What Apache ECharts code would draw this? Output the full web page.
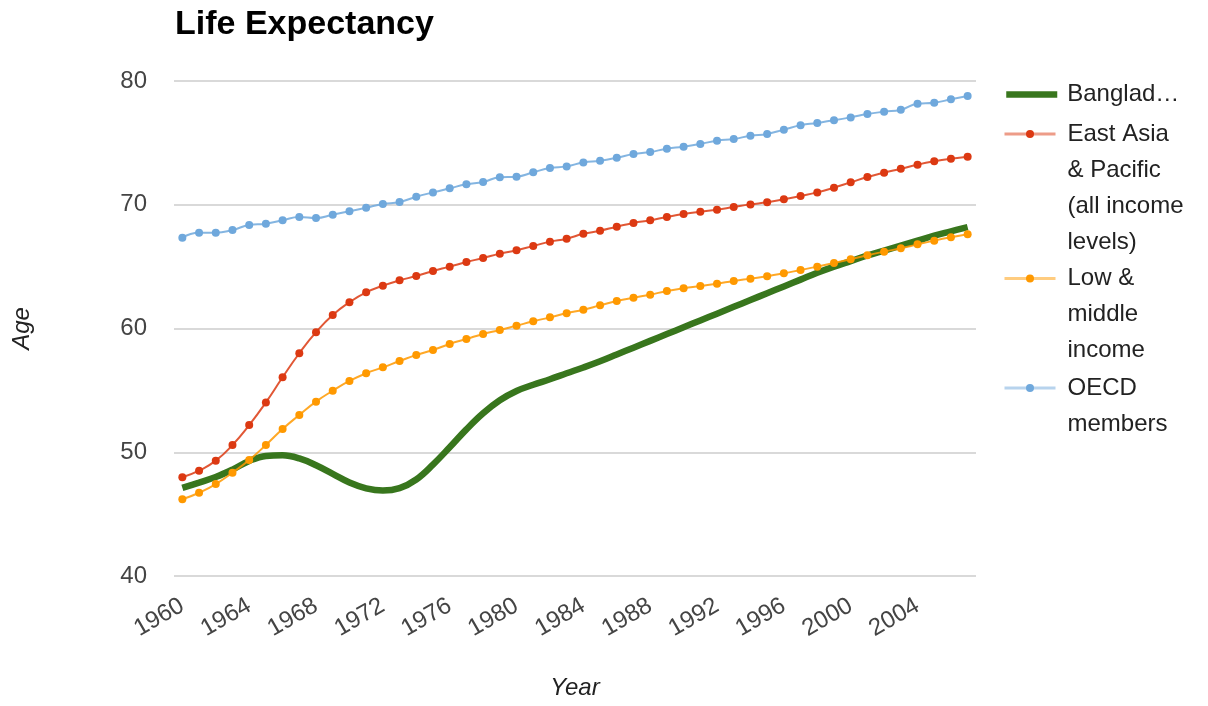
<!DOCTYPE html>
<html>
<head>
<meta charset="utf-8">
<title>Life Expectancy</title>
<script src="https://cdn.jsdelivr.net/npm/echarts@6/dist/echarts.min.js"></script>
<style>
  html, body { margin: 0; padding: 0; background: #fff; }
  #chart { width: 1208px; height: 706px; }
</style>
</head>
<body>
<div id="chart"></div>
<script>
// Years on the category axis, 1960–2007
const years = [
  '1960','1961','1962','1963','1964','1965','1966','1967','1968','1969',
  '1970','1971','1972','1973','1974','1975','1976','1977','1978','1979',
  '1980','1981','1982','1983','1984','1985','1986','1987','1988','1989',
  '1990','1991','1992','1993','1994','1995','1996','1997','1998','1999',
  '2000','2001','2002','2003','2004','2005','2006','2007'
];

// Life expectancy at birth, years
const bangladesh = [
  47.12, 47.55, 48.0, 48.6, 49.3, 49.7, 49.75, 49.5, 48.95, 48.25,
  47.55, 47.08, 46.9, 47.1, 47.8, 49.0, 50.4, 51.85, 53.15, 54.2,
  54.95, 55.45, 55.9, 56.38, 56.85, 57.35, 57.9, 58.45, 59.0, 59.55,
  60.1, 60.65, 61.2, 61.75, 62.3, 62.85, 63.4, 63.95, 64.5, 65.0,
  65.45, 65.9, 66.3, 66.7, 67.1, 67.5, 67.85, 68.2
];
const eastAsiaPacific = [
  47.98, 48.51, 49.32, 50.59, 52.2, 54.03, 56.06, 58.0, 59.7, 61.09,
  62.12, 62.92, 63.46, 63.89, 64.24, 64.65, 65.0, 65.37, 65.7, 66.05,
  66.32, 66.67, 67.02, 67.26, 67.65, 67.9, 68.23, 68.53, 68.74, 69.01,
  69.25, 69.44, 69.6, 69.82, 70.03, 70.2, 70.44, 70.71, 71.0, 71.38,
  71.81, 72.24, 72.59, 72.91, 73.24, 73.51, 73.72, 73.88
];
const lowMiddleIncome = [
  46.2, 46.73, 47.43, 48.35, 49.37, 50.59, 51.88, 53.01, 54.09, 54.97,
  55.76, 56.38, 56.86, 57.37, 57.86, 58.26, 58.75, 59.15, 59.56, 59.88,
  60.23, 60.58, 60.9, 61.23, 61.52, 61.87, 62.22, 62.49, 62.73, 63.03,
  63.25, 63.43, 63.62, 63.84, 64.03, 64.22, 64.46, 64.73, 65.0, 65.29,
  65.59, 65.92, 66.21, 66.48, 66.8, 67.1, 67.37, 67.61
];
const oecdMembers = [
  67.34, 67.74, 67.74, 67.96, 68.36, 68.47, 68.74, 69.01, 68.93, 69.2,
  69.47, 69.76, 70.06, 70.22, 70.65, 71.0, 71.33, 71.65, 71.84, 72.22,
  72.27, 72.62, 72.97, 73.1, 73.42, 73.56, 73.8, 74.1, 74.26, 74.53,
  74.69, 74.91, 75.18, 75.31, 75.58, 75.72, 76.07, 76.42, 76.61, 76.82,
  77.06, 77.33, 77.52, 77.68, 78.17, 78.25, 78.52, 78.79
];

const seriesNames = [
  'Bangladesh',
  'East Asia & Pacific (all income levels)',
  'Low & middle income',
  'OECD members'
];
// Wrapped legend text, one entry per series
const legendLines = [
  ['Bangladesh'],
  ['East Asia', '& Pacific', '(all income', 'levels)'],
  ['Low &', 'middle', 'income'],
  ['OECD', 'members']
];

// Y axis range
const yMin = 40, yMax = 80, yStep = 10;

const colors = ['#38761d', '#dc3912', '#ff9900', '#6fa8dc'];
const FONT = '"Liberation Sans", Arial, Helvetica, sans-serif';

const LEGEND_LINE_H = 36;
const legendFirstLineCenter = [94.5, 134, 278.5, 388];

// One legend block per series so the marker sits beside the first text line.
// Leading blank lines keep the marker (centred on the block) level with line one.
const legends = seriesNames.map((name, i) => {
  const n = legendLines[i].length;
  const blockHalf = (2 * n - 1) * LEGEND_LINE_H / 2;
  const textStyle = {
    fontFamily: FONT,
    fontSize: 24,
    color: '#222',
    lineHeight: LEGEND_LINE_H,
    padding: [0, 0, 0, i === 0 ? 5 : 7]
  };
  if (i === 0) {
    textStyle.width = 118;
    textStyle.overflow = 'truncate';
    textStyle.ellipsis = '…';
  }
  return {
    data: [{ name }],
    orient: 'vertical',
    left: 1003,
    top: legendFirstLineCenter[i] - blockHalf,
    padding: 0,
    itemWidth: 51,
    itemHeight: 10,
    selectedMode: false,
    formatter: () => '\n'.repeat(n - 1) + legendLines[i].join('\n'),
    textStyle,
    lineStyle: i === 0 ? { width: 6.5, opacity: 1 } : { width: 3, opacity: 0.5 },
    itemStyle: i === 0 ? { opacity: 0 } : { opacity: 1 }
  };
});

const seriesData = [bangladesh, eastAsiaPacific, lowMiddleIncome, oecdMembers];

const series = seriesNames.map((name, i) => {
  const base = {
    name,
    type: 'line',
    data: seriesData[i],
    color: colors[i],
    emphasis: { disabled: true }
  };
  if (i === 0) {
    return Object.assign(base, {
      smooth: 0.4,
      symbol: 'none',
      lineStyle: { width: 6.5, color: colors[i] }
    });
  }
  return Object.assign(base, {
    smooth: true,
    symbol: 'circle',
    symbolSize: 8,
    showSymbol: true,
    itemStyle: { color: colors[i] },
    lineStyle: { width: 2, color: colors[i], opacity: 0.85 }
  });
});

const chart = echarts.init(document.getElementById('chart'));
chart.setOption({
  animation: false,
  backgroundColor: '#fff',
  title: {
    text: 'Life Expectancy',
    left: 175,
    top: 8,
    padding: 0,
    textStyle: { fontFamily: FONT, fontSize: 34, fontWeight: 'bold', color: '#000' }
  },
  legend: legends,
  grid: { left: 174, right: 232, top: 81, bottom: 130, containLabel: false },
  xAxis: {
    type: 'category',
    data: years,
    boundaryGap: true,
    name: 'Year',
    nameLocation: 'middle',
    nameGap: 100,
    nameTextStyle: { fontFamily: FONT, fontSize: 24, fontStyle: 'italic', color: '#222' },
    axisLine: { show: false },
    axisTick: { show: false },
    splitLine: { show: false },
    axisLabel: {
      interval: 3,
      rotate: 30,
      margin: 28,
      fontFamily: FONT,
      fontSize: 24,
      color: '#444'
    }
  },
  yAxis: {
    type: 'value',
    min: yMin,
    max: yMax,
    interval: yStep,
    name: 'Age',
    nameLocation: 'middle',
    nameRotate: 90,
    nameGap: 140,
    nameTextStyle: { fontFamily: FONT, fontSize: 24, fontStyle: 'italic', color: '#222' },
    axisLine: { show: false },
    axisTick: { show: false },
    splitLine: { lineStyle: { color: '#cccccc', width: 1.5 } },
    axisLabel: { margin: 27, fontFamily: FONT, fontSize: 24, color: '#444' }
  },
  series
});
</script>
</body>
</html>
